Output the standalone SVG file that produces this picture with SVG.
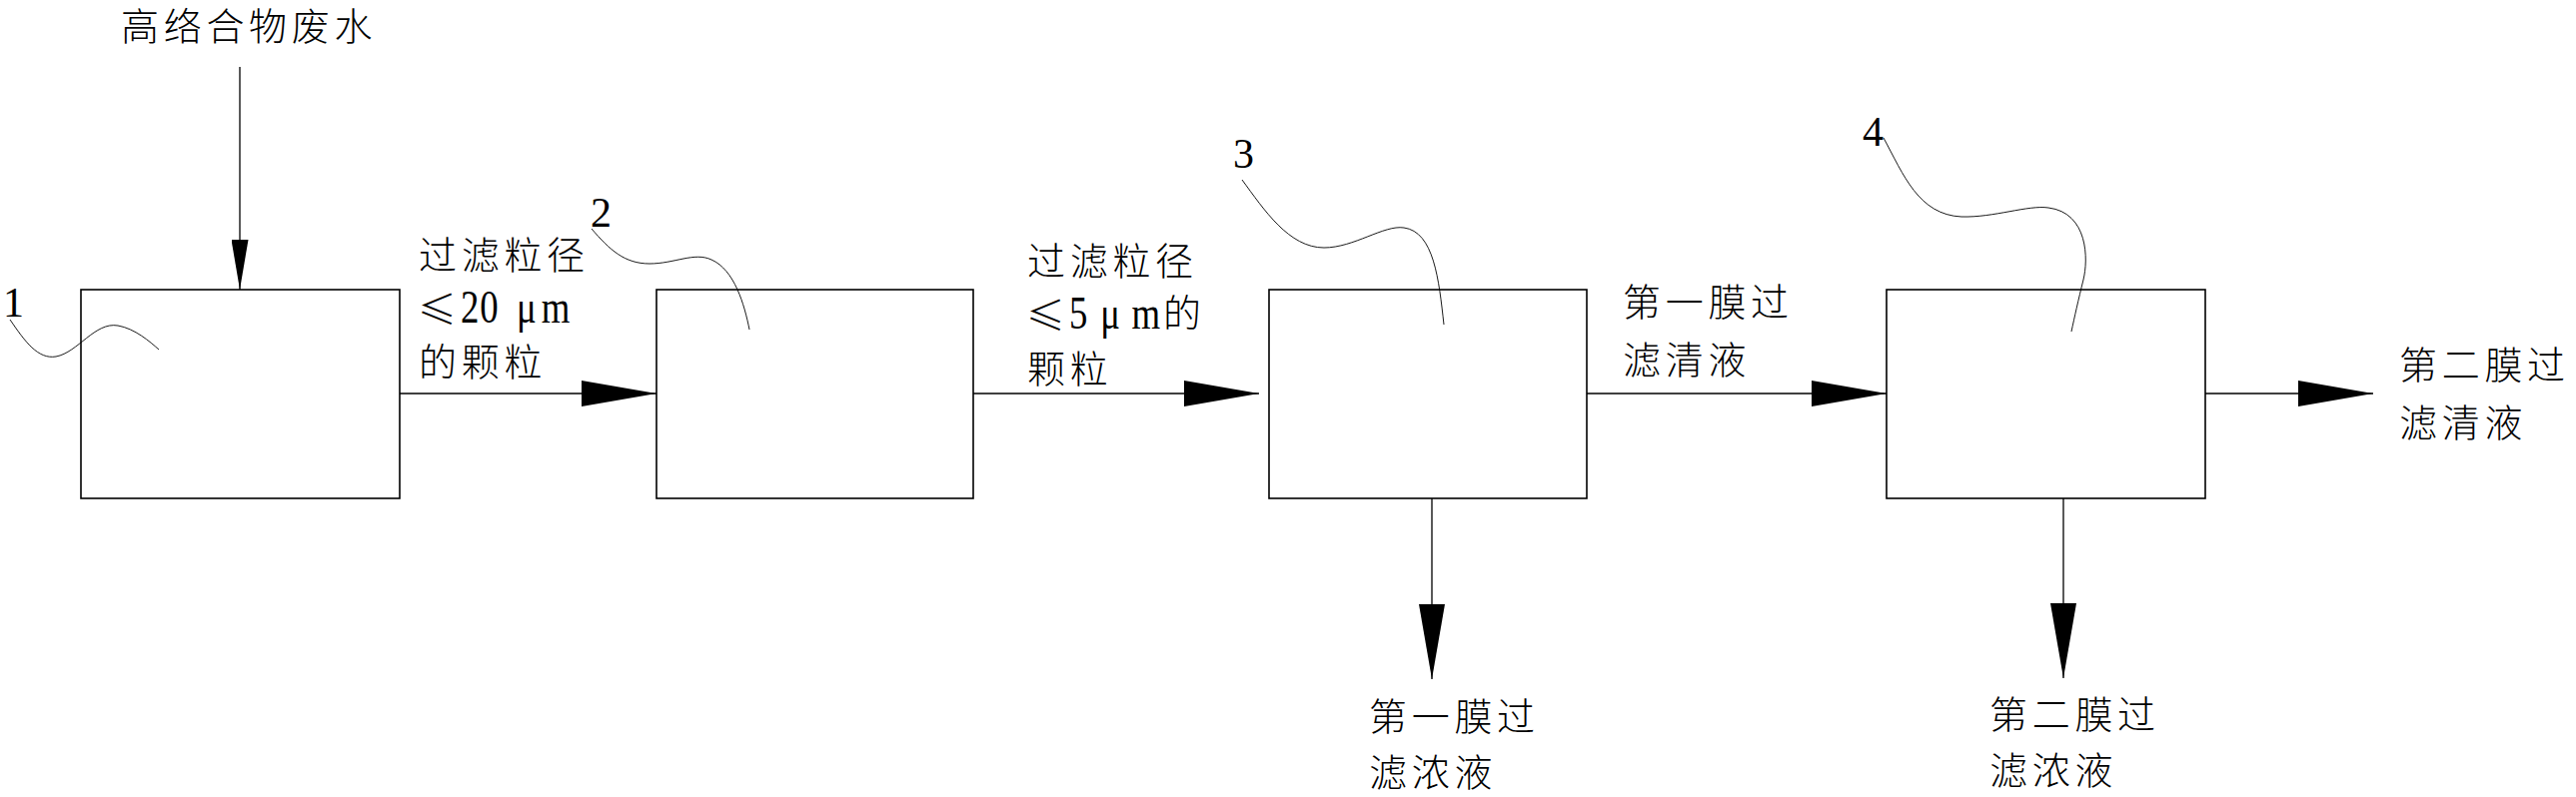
<svg xmlns="http://www.w3.org/2000/svg" width="2578" height="798" viewBox="0 0 2578 798">
<style>
.box{fill:none;stroke:#000;stroke-width:1.6}
.conn{fill:none;stroke:#000;stroke-width:1.3}
.lead{fill:none;stroke:#000;stroke-width:0.9}
.cjk{font-family:"Noto Sans CJK SC","Noto Sans CJK JP",sans-serif;font-size:38px;font-weight:300;letter-spacing:4.7px;fill:#000}
.le{font-family:"Noto Sans CJK SC","Noto Sans CJK JP",sans-serif;font-size:39px;font-weight:300;fill:#000}
.lat{font-family:"Liberation Serif",serif;font-size:46px;fill:#000}
.num{font-family:"Liberation Serif",serif;font-size:42px;fill:#000}
</style>
<defs>
<marker id="ah" markerUnits="userSpaceOnUse" viewBox="0 0 75 26" markerWidth="75" markerHeight="26" refX="75" refY="13" orient="auto"><path d="M0,0 L75,13 L0,26 Z" fill="#000"/></marker>
<marker id="ahs" markerUnits="userSpaceOnUse" viewBox="0 0 50 17" markerWidth="50" markerHeight="17" refX="50" refY="8.5" orient="auto"><path d="M0,0 L50,8.5 L0,17 Z" fill="#000"/></marker>
</defs>
<rect x="0" y="0" width="2578" height="798" fill="#fff"/>

<text id="input-label" class="cjk" x="121" y="40">高络合物废水</text>

<g id="node1">
<rect class="box" x="81" y="290" width="319" height="209"/>
<text class="num" x="3" y="317">1</text>
<path class="lead" d="M10,320 C25,342 38,360 56,357 C78,353 95,322 118,326 C135,329 150,342 159,350"/>
</g>
<g id="node2">
<rect class="box" x="657" y="290" width="317" height="209"/>
<text class="num" x="591" y="227">2</text>
<path class="lead" d="M592,229 C610,250 625,264 650,264 C675,264 695,252 712,260 C735,270 745,305 750,330"/>
</g>
<g id="node3">
<rect class="box" x="1270" y="290" width="318" height="209"/>
<text class="num" x="1234" y="168">3</text>
<path class="lead" d="M1243,180 C1265,210 1290,248 1325,248 C1355,248 1385,225 1405,228 C1435,232 1440,280 1445,325"/>
</g>
<g id="node4">
<rect class="box" x="1888" y="290" width="319" height="209"/>
<text class="num" x="1864" y="146">4</text>
<path class="lead" d="M1885,138 C1905,175 1920,215 1963,217 C1995,218 2030,205 2050,208 C2090,213 2090,260 2085,280 C2080,300 2076,318 2073,332"/>
</g>

<g id="connectors">
<path class="conn" d="M240,67 V290" marker-end="url(#ahs)"/>
<path class="conn" d="M400,394 H657" marker-end="url(#ah)"/>
<path class="conn" d="M974,394 H1260" marker-end="url(#ah)"/>
<path class="conn" d="M1588,394 H1888" marker-end="url(#ah)"/>
<path class="conn" d="M2207,394 H2375" marker-end="url(#ah)"/>
<path class="conn" d="M1433,499 V680" marker-end="url(#ah)"/>
<path class="conn" d="M2065,499 V679" marker-end="url(#ah)"/>
</g>

<g id="labels">
<text class="cjk" x="419" y="269">过滤粒径</text>
<text class="le" x="418" y="324">≤</text>
<text class="lat" transform="translate(461,323) scale(0.8,1)" x="0 24 70 101">20μm</text>
<text class="cjk" x="419" y="376">的颗粒</text>

<text class="cjk" x="1028" y="275">过滤粒径</text>
<text class="le" x="1027" y="330">≤</text>
<text class="lat" transform="translate(1070,329) scale(0.8,1)" x="0 39 78">5μm</text>
<text class="cjk" x="1164" y="327">的</text>
<text class="cjk" x="1028" y="383">颗粒</text>

<text class="cjk" x="1624" y="316">第一膜过</text>
<text class="cjk" x="1624" y="374">滤清液</text>

<text class="cjk" x="2401" y="379">第二膜过</text>
<text class="cjk" x="2401" y="437">滤清液</text>

<text class="cjk" x="1370" y="731">第一膜过</text>
<text class="cjk" x="1370" y="787">滤浓液</text>

<text class="cjk" x="1991" y="729">第二膜过</text>
<text class="cjk" x="1991" y="785">滤浓液</text>
</g>
</svg>
